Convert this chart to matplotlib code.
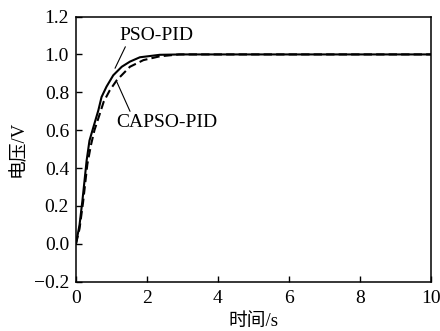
import matplotlib
matplotlib.use('Agg')
import matplotlib.pyplot as plt

plt.rcParams['font.family'] = ['Liberation Serif', 'Noto Sans CJK SC']
plt.rcParams['axes.unicode_minus'] = True

# 阶跃响应数据
t_pso = [0, 0.1, 0.18, 0.3, 0.38, 0.49, 0.63, 0.72, 0.86, 1.05, 1.29, 1.52, 1.8, 2.36, 3, 4, 10]
y_pso = [0, 0.1, 0.226, 0.44, 0.545, 0.616, 0.705, 0.775, 0.83, 0.89, 0.935, 0.962, 0.985, 0.998, 1.0, 1.0, 1.0]

t_capso = [0, 0.1, 0.2, 0.32, 0.42, 0.52, 0.66, 0.78, 0.95, 1.15, 1.52, 1.9, 2.36, 2.9, 4, 10]
y_capso = [0, 0.08, 0.22, 0.42, 0.52, 0.6, 0.68, 0.75, 0.81, 0.864, 0.935, 0.97, 0.99, 1.0, 1.0, 1.0]

xticks = [0, 2, 4, 6, 8, 10]
yticks = [-0.2, 0.0, 0.2, 0.4, 0.6, 0.8, 1.0, 1.2]

fig = plt.figure(figsize=(4.4, 3.31), dpi=100)
ax = fig.add_axes([0.1727, 0.149, 0.8068, 0.801])

ax.plot(t_pso, y_pso, color='black', lw=1.5)
ax.plot(t_capso, y_capso, color='black', lw=1.5, ls=(0, (4, 2)))

ax.set_xlim(0, 10)
ax.set_ylim(-0.2, 1.2)
ax.set_xticks(xticks)
ax.set_yticks(yticks)
ax.set_yticklabels([('%.1f' % v).replace('-', '\u2212') for v in yticks])
ax.tick_params(direction='in', length=4, width=1, labelsize=14, top=False, right=False)
ax.tick_params(axis='x', pad=6)
ax.tick_params(axis='y', pad=5)
for s in ax.spines.values():
    s.set_linewidth(1.1)

ax.set_xlabel('时间/s', fontsize=13.5, labelpad=4)
ax.set_ylabel('电压/V', fontsize=13.5, labelpad=5)

ax.annotate('PSO-PID', xy=(1.10, 0.927), xytext=(1.22, 1.10),
            fontsize=14, va='center', ha='left',
            arrowprops=dict(arrowstyle='-', color='black', lw=0.8, shrinkA=0, shrinkB=0,
                            relpos=(0.1, 0.0)))
ax.annotate('CAPSO-PID', xy=(1.15, 0.855), xytext=(1.13, 0.64),
            fontsize=14, va='center', ha='left',
            arrowprops=dict(arrowstyle='-', color='black', lw=0.8, shrinkA=0, shrinkB=0,
                            relpos=(0.15, 1.0)))

fig.savefig('out.png', dpi=100)
